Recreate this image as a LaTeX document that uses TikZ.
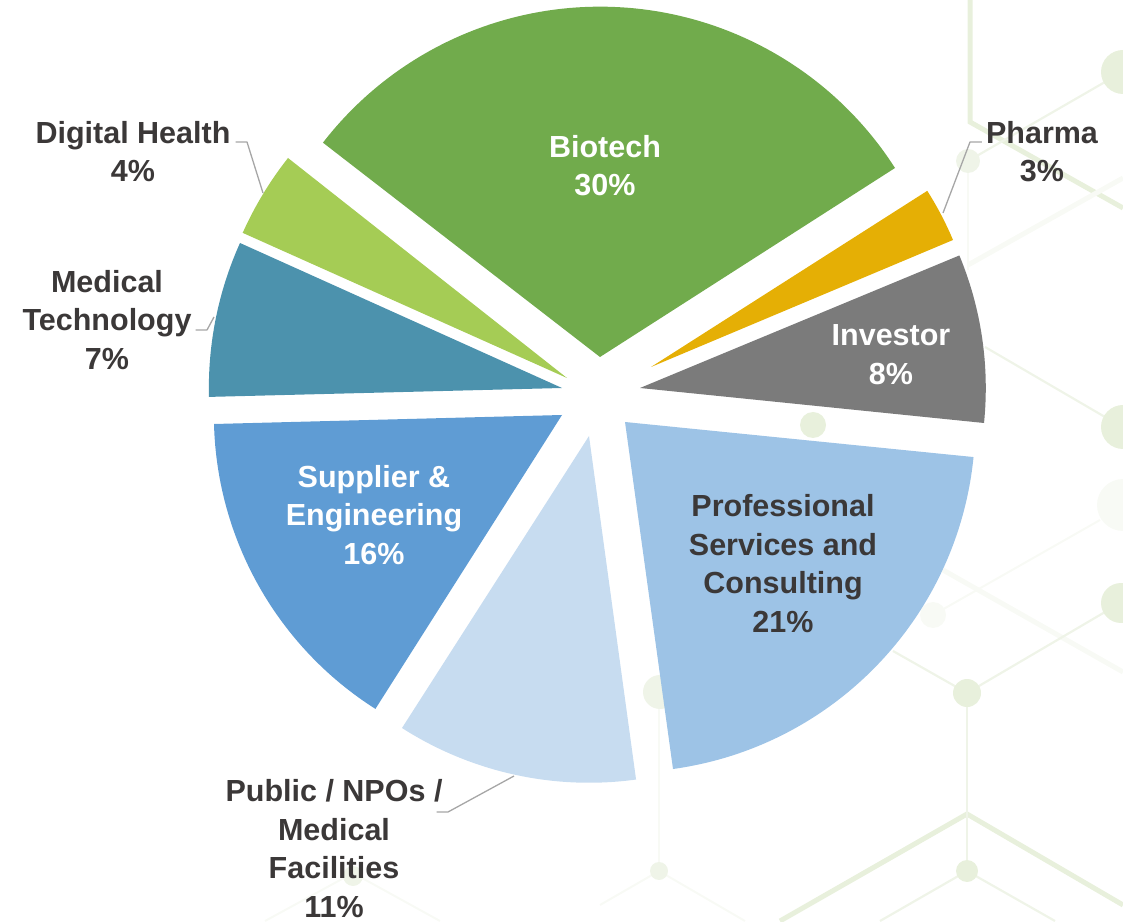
\documentclass[tikz,border=0pt]{standalone}
\usepackage{fontspec}
\setmainfont{Liberation Sans}
\definecolor{txt}{HTML}{3B3838}
\definecolor{lead}{HTML}{A6A6A6}
\definecolor{bgA}{HTML}{E8F0DC}
\definecolor{bgB}{HTML}{EFF4E8}
\definecolor{bgC}{HTML}{F8FAF5}
\definecolor{cBio}{RGB}{113,171,76}
\definecolor{cPha}{RGB}{229,175,5}
\definecolor{cInv}{RGB}{123,123,123}
\definecolor{cPro}{RGB}{157,195,230}
\definecolor{cPub}{RGB}{199,220,240}
\definecolor{cSup}{RGB}{95,156,212}
\definecolor{cMed}{RGB}{76,146,173}
\definecolor{cDig}{RGB}{165,204,85}
\newcommand{\py}[1]{\the\numexpr921-#1\relax}
\newcommand{\slice}[7]{%
  \pgfmathsetmacro{\sa}{atan2(#3-#5,#4-#2)}%
  \pgfmathsetmacro{\sb}{atan2(#3-#7,#6-#2)}%
  \pgfmathsetmacro{\sb}{\sb<\sa ? \sb+360 : \sb}%
  \pgfmathsetmacro{\sr}{veclen(#4-#2,#3-#5)}%
  \fill[#1] (#2,\py{#3}) -- (#4,\py{#5}) arc[start angle=\sa,end angle=\sb,radius=\sr pt] -- cycle;}
\tikzset{
  x=1pt,y=1pt,
  lbl/.style={align=center,inner sep=0pt,yshift=-0.7pt,font=\bfseries\fontsize{30.5}{38.5}\selectfont},
  dark/.style={lbl,text=txt},
  light/.style={lbl,text=white},
  leader/.style={draw=lead,line width=1.3pt,line join=round},
  thick1/.style={draw=bgA,line width=5pt},
  thick2/.style={draw=bgC,line width=5pt},
  thin1/.style={draw=bgB,line width=2.2pt},
  thin2/.style={draw=bgC,line width=2pt},
}
\begin{document}
\begin{tikzpicture}
\useasboundingbox (0,0) rectangle (1123,921);
% background network
\draw[thick1] (970,\py{0}) -- (970,\py{122}) -- (1123,\py{208});
\draw[thick1] (780,\py{921}) -- (967,\py{814}) -- (1123,\py{905});
\draw[thick2] (943,\py{570}) -- (1123,\py{672});
\draw[thick2] (968,\py{265}) -- (1123,\py{178});
\draw[thin2] (968,\py{161}) -- (968,\py{270});
\draw[thin1] (968,\py{161}) -- (1105,\py{82});
\draw[thin1] (985,\py{347}) -- (1105,\py{417});
\draw[thin1] (893,\py{651}) -- (967,\py{693}) -- (1105,\py{612});
\draw[thin1] (967,\py{693}) -- (967,\py{871});
\draw[thin1] (880,\py{921}) -- (967,\py{871}) -- (1055,\py{921});
\draw[thin2] (659,\py{692}) -- (659,\py{871});
\draw[thin2] (600,\py{905}) -- (659,\py{871}) -- (745,\py{921});
\draw[thin2] (933,\py{615}) -- (1100,\py{520});
\draw[thin2] (265,\py{921}) -- (353,\py{873}) -- (440,\py{921});
\fill[bgA] (1123,\py{72}) circle[radius=22pt];
\fill[bgA] (1123,\py{427}) circle[radius=22pt];
\fill[bgA] (1121,\py{603}) circle[radius=20pt];
\fill[bgC] (1123,\py{505}) circle[radius=26pt];
\fill[bgB] (968,\py{161}) circle[radius=12pt];
\fill[bgA] (813,\py{425}) circle[radius=13pt];
\fill[bgA] (967,\py{693}) circle[radius=14pt];
\fill[bgA] (967,\py{871}) circle[radius=11pt];
\fill[bgB] (659,\py{871}) circle[radius=9pt];
\fill[bgB] (660,\py{692}) circle[radius=17pt];
\fill[bgC] (933,\py{615}) circle[radius=13pt];
\fill[bgB] (353,\py{876}) circle[radius=10pt];
% slices
\slice{cBio}{600}{357}{895}{168}{322}{142}
\slice{cPha}{651}{367}{953}{240}{927}{191}
\slice{cInv}{640}{388}{984}{423}{958}{256}
\slice{cPro}{625}{422}{673}{769}{973}{457}
\slice{cPub}{589}{436}{402}{728}{636}{779}
\slice{cSup}{562}{415}{214}{424}{376}{708}
\slice{cMed}{562}{388}{240}{243}{207}{397}
\slice{cDig}{567}{378}{288}{158}{243}{233}
% labels
\node[light] (biotech) at (605,\py{165}) {Biotech\\30\%};
\node[dark] (pharma) at (1042,\py{151}) {Pharma\\3\%};
\node[light] (investor) at (891,\py{354}) {Investor\\8\%};
\node[dark] (prof) at (783,\py{563}) {Professional\\Services and\\Consulting\\21\%};
\node[light] (supplier) at (374,\py{514}) {Supplier \&\\Engineering\\16\%};
\node[dark] (public) at (334,\py{848}) {Public / NPOs /\\Medical\\Facilities\\11\%};
\node[dark] (medtech) at (107,\py{319}) {Medical\\Technology\\7\%};
\node[dark] (digital) at (133,\py{151}) {Digital Health\\4\%};
% leaders
\coordinate (pharmaEnd) at (943,\py{213});
\coordinate (digitalEnd) at (263,\py{193});
\coordinate (medtechEnd) at (214,\py{317});
\coordinate (publicEnd) at (514,\py{776});
\draw[leader] (pharma.west |- 0,\py{142}) ++(-4,0) -- (970,\py{142}) -- (pharmaEnd);
\draw[leader] (digital.east |- 0,\py{142}) ++(5,0) -- (247,\py{142}) -- (digitalEnd);
\draw[leader] (medtech.east |- 0,\py{330}) ++(4,0) -- (207,\py{330}) -- (medtechEnd);
\draw[leader] (public.east |- 0,\py{812}) ++(-6,0) -- (448,\py{812}) -- (publicEnd);
\end{tikzpicture}
\end{document}
